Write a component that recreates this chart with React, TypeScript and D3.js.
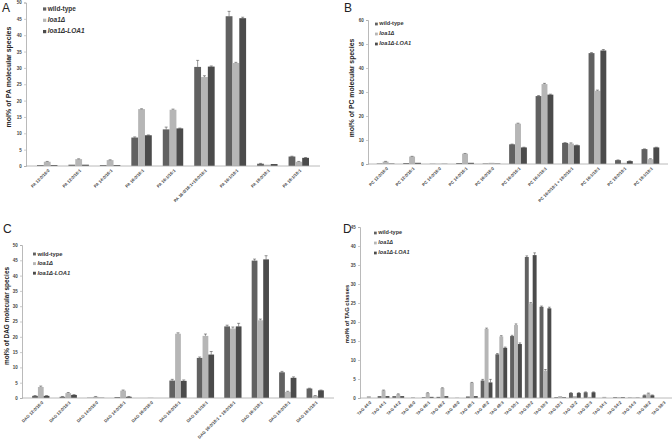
import { useEffect, useRef } from "react";
import * as d3 from "d3";

const seriesNames = ["wild-type", "loa1Δ", "loa1Δ-LOA1"];
const seriesColors = ["#616161", "#b6b6b6", "#4b4b4b"];

// A: PA
const paCategories = [
  "PA 12:0/16:0", "PA 12:0/16:1", "PA 14:0/16:1", "PA 16:0/16:1", "PA 16:1/16:1",
  "PA 16:0/18:1+18:0/16:1", "PA 16:1/18:1", "PA 18:0/18:1", "PA 18:1/18:1",
];
const paWildType = [0.3, 0.4, 0.3, 8.7, 11.2, 30.3, 45.8, 0.7, 2.9];
const paLoa1 = [1.3, 2.1, 1.8, 17.4, 17.2, 27.2, 31.5, 0.4, 1.3];
const paLoa1Comp = [0.3, 0.4, 0.3, 9.4, 11.5, 30.4, 45.2, 0.6, 2.5];
const paWildTypeErr = [0, 0, 0, 0.2, 0.7, 2.0, 1.5, 0.1, 0.1];
const paLoa1Err = [0.1, 0.1, 0.1, 0.1, 0.2, 0.4, 0.2, 0, 0.1];
const paLoa1CompErr = [0, 0, 0, 0.1, 0.1, 0.2, 0.3, 0, 0.1];
const paTicks = [0, 5, 10, 15, 20, 25, 30, 35, 40, 45, 50];

// B: PC
const pcCategories = [
  "PC 12:0/16:0", "PC 12:0/16:1", "PC 14:0/16:0", "PC 14:0/16:1", "PC 16:0/16:0",
  "PC 16:0/16:1", "PC 16:1/16:1", "PC 16:0/18:1 + 18:0/16:1", "PC 16:1/18:1",
  "PC 18:0/18:1", "PC 18:1/18:1",
];
const pcWildType = [0.2, 0.4, 0.1, 0.4, 0.2, 8.2, 28.3, 8.8, 46.2, 1.6, 6.2];
const pcLoa1 = [1.0, 3.1, 0.1, 4.3, 0.5, 16.8, 33.3, 8.5, 30.5, 0.5, 2.0];
const pcLoa1Comp = [0.2, 0.5, 0.1, 0.5, 0.2, 6.9, 28.9, 7.8, 47.3, 1.2, 6.9];
const pcWildTypeErr = [0, 0, 0, 0, 0, 0.1, 0.2, 0.1, 0.2, 0.1, 0.1];
const pcLoa1Err = [0.1, 0.1, 0, 0.1, 0, 0.2, 0.3, 0.3, 0.3, 0, 0.2];
const pcLoa1CompErr = [0, 0, 0, 0, 0, 0.1, 0.2, 0.1, 0.4, 0.1, 0.1];
const pcTicks = [0, 10, 20, 30, 40, 50, 60];

// C: DAG
const dagCategories = [
  "DAG 12:0/16:0", "DAG 12:0/16:1", "DAG 14:0/16:0", "DAG 14:0/16:1", "DAG 16:0/16:0",
  "DAG 16:0/16:1", "DAG 16:1/16:1", "DAG 16:0/18:1 + 18:0/16:1", "DAG 16:1/18:1",
  "DAG 18:0/18:1", "DAG 18:1/18:1",
];
const dagWildType = [0.7, 0.4, 0.1, 0.3, 0, 5.7, 13.1, 23.4, 44.9, 8.4, 3.1];
const dagLoa1 = [3.6, 1.6, 0.4, 2.4, 0.1, 21.0, 20.3, 22.7, 25.4, 2.0, 0.7];
const dagLoa1Comp = [0.7, 1.0, 0.1, 0.4, 0, 5.6, 14.2, 23.4, 45.3, 6.6, 2.5];
const dagWildTypeErr = [0.1, 0.1, 0, 0, 0, 0.4, 0.3, 0.4, 0.5, 0.3, 0.1];
const dagLoa1Err = [0.3, 0.2, 0.1, 0.2, 0, 0.3, 0.6, 0.5, 0.4, 0.2, 0.1];
const dagLoa1CompErr = [0.1, 0.1, 0, 0.1, 0, 0.3, 1.0, 1.0, 1.2, 0.3, 0.1];
const dagTicks = [0, 5, 10, 15, 20, 25, 30, 35, 40, 45, 50];

// D: TAG
const tagCategories = [
  "TAG 44:0", "TAG 44:1", "TAG 44:2", "TAG 46:0", "TAG 46:1", "TAG 46:2", "TAG 48:0",
  "TAG 48:1", "TAG 48:2", "TAG 48:3", "TAG 50:1", "TAG 50:2", "TAG 50:3", "TAG 52:1",
  "TAG 52:2", "TAG 52:3", "TAG 54:1", "TAG 54:2", "TAG 54:3", "TAG 56:2", "TAG 58:3",
];
const tagWildType = [0, 0.5, 0.5, 0, 0.2, 0.3, 0, 0.4, 4.6, 11.5, 16.3, 37.1, 24.0, 0.2, 1.3, 1.5, 0, 0.2, 0.1, 0.7, 0];
const tagLoa1 = [0.5, 2.0, 1.0, 0.2, 1.3, 2.6, 0.1, 4.0, 18.2, 16.2, 19.2, 24.9, 7.2, 0.5, 0.5, 0.3, 0.3, 0.2, 0.1, 1.2, 0];
const tagLoa1Comp = [0, 0.5, 0.5, 0, 0.3, 0.5, 0, 0.5, 4.1, 13.2, 14.2, 37.6, 23.6, 0.2, 1.3, 1.5, 0, 0.2, 0.1, 0.7, 0];
const tagWildTypeErr = [0, 0, 0, 0, 0, 0, 0, 0, 0.3, 0.2, 0.2, 0.3, 0.2, 0, 0.1, 0.1, 0, 0, 0, 0.1, 0];
const tagLoa1Err = [0, 0.1, 0.1, 0, 0.1, 0.1, 0, 0.1, 0.2, 0.2, 0.3, 0.2, 0.3, 0, 0, 0, 0, 0, 0, 0.1, 0];
const tagLoa1CompErr = [0, 0, 0, 0, 0, 0, 0, 0, 0.8, 0.2, 0.3, 0.6, 0.3, 0, 0.1, 0.1, 0, 0, 0, 0.1, 0];
const tagTicks = [0, 5, 10, 15, 20, 25, 30, 35, 40, 45];

interface PanelConfig {
  letter: string;
  yTitle: string;
  categories: string[];
  values: number[][];
  errors: number[][];
  ticks: number[];
  // layout
  left: number;
  right: number;
  top: number;
  bottom: number;
  padding: number;
  letterX: number;
  letterY: number;
  titleX: number;
  titleY: number;
  titleSize: number;
  legendX: number;
  legendY: number;
  legendStep: number;
  legendSize: number;
  labelSize: number;
}

const panels: PanelConfig[] = [
  {
    letter: "A", yTitle: "mol% of PA molecular species", categories: paCategories,
    values: [paWildType, paLoa1, paLoa1Comp], errors: [paWildTypeErr, paLoa1Err, paLoa1CompErr],
    ticks: paTicks, left: 26, right: 320, top: 2.5, bottom: 166, padding: 0.35,
    letterX: 2, letterY: 12, titleX: 9, titleY: 77, titleSize: 7,
    legendX: 43, legendY: 9, legendStep: 11.3, legendSize: 6.5, labelSize: 4.2,
  },
  {
    letter: "B", yTitle: "mol% of PC molecular species", categories: pcCategories,
    values: [pcWildType, pcLoa1, pcLoa1Comp], errors: [pcWildTypeErr, pcLoa1Err, pcLoa1CompErr],
    ticks: pcTicks, left: 368, right: 668, top: 20, bottom: 164, padding: 0.33,
    letterX: 344, letterY: 12, titleX: 352, titleY: 88, titleSize: 6.8,
    legendX: 375, legendY: 24, legendStep: 10, legendSize: 5.6, labelSize: 4.2,
  },
  {
    letter: "C", yTitle: "mol% of DAG molecular species", categories: dagCategories,
    values: [dagWildType, dagLoa1, dagLoa1Comp], errors: [dagWildTypeErr, dagLoa1Err, dagLoa1CompErr],
    ticks: dagTicks, left: 22, right: 334, top: 245, bottom: 398, padding: 0.37,
    letterX: 3, letterY: 233, titleX: 7, titleY: 316, titleSize: 6.4,
    legendX: 33, legendY: 254, legendStep: 9.6, legendSize: 5.8, labelSize: 4.2,
  },
  {
    letter: "D", yTitle: "mol% of TAG classes", categories: tagCategories,
    values: [tagWildType, tagLoa1, tagLoa1Comp], errors: [tagWildTypeErr, tagLoa1Err, tagLoa1CompErr],
    ticks: tagTicks, left: 360, right: 672, top: 227, bottom: 398, padding: 0.2,
    letterX: 343, letterY: 233, titleX: 347.5, titleY: 314, titleSize: 5.8,
    legendX: 374, legendY: 233, legendStep: 10, legendSize: 5.5, labelSize: 4.2,
  },
];

const FONT = "'Liberation Sans', Arial, sans-serif";

function drawPanel(svg: d3.Selection<SVGSVGElement, unknown, null, undefined>, p: PanelConfig) {
  const g = svg.append("g");
  const x0 = d3.scaleBand().domain(p.categories).range([p.left, p.right]).padding(p.padding);
  const x1 = d3.scaleBand<number>().domain([0, 1, 2]).range([0, x0.bandwidth()]).padding(0);
  const yMax = p.ticks[p.ticks.length - 1];
  const y = d3.scaleLinear().domain([0, yMax]).range([p.bottom, p.top]);

  // panel letter
  g.append("text")
    .attr("x", p.letterX)
    .attr("y", p.letterY)
    .attr("font-family", FONT)
    .attr("font-size", 12)
    .attr("fill", "#222")
    .text(p.letter);

  // y axis
  const yAxis = g
    .append("g")
    .attr("transform", `translate(${p.left},0)`)
    .call(d3.axisLeft(y).tickValues(p.ticks).tickSize(2).tickPadding(2.2));
  yAxis.select(".domain").attr("stroke", "#a8a8a8").attr("stroke-width", 0.8);
  yAxis.selectAll(".tick line").attr("stroke", "#a8a8a8").attr("stroke-width", 0.6);
  yAxis
    .selectAll("text")
    .attr("font-family", FONT)
    .attr("font-size", 4.5)
    .attr("font-weight", "bold")
    .attr("fill", "#444");

  // y title
  g.append("text")
    .attr("transform", `translate(${p.titleX},${p.titleY}) rotate(-90)`)
    .attr("text-anchor", "middle")
    .attr("dominant-baseline", "middle")
    .attr("font-family", FONT)
    .attr("font-size", p.titleSize)
    .attr("font-weight", "bold")
    .attr("fill", "#222")
    .text(p.yTitle);

  // bars
  p.values.forEach((vals, s) => {
    g.append("g")
      .selectAll("rect")
      .data(vals)
      .join("rect")
      .attr("x", (_, i) => (x0(p.categories[i]) ?? 0) + (x1(s) ?? 0))
      .attr("width", x1.bandwidth())
      .attr("y", (d) => y(d))
      .attr("height", (d) => p.bottom - y(d))
      .attr("fill", seriesColors[s]);
  });

  // error bars
  p.values.forEach((vals, s) => {
    const errs = p.errors[s];
    const eg = g.append("g").attr("stroke", "#333").attr("stroke-width", 0.5);
    vals.forEach((v, i) => {
      if (!errs[i] || v <= 0) return;
      const cx = (x0(p.categories[i]) ?? 0) + (x1(s) ?? 0) + x1.bandwidth() / 2;
      const y1 = y(v);
      const y2 = y(v + errs[i]);
      const cap = Math.min(1.5, x1.bandwidth() / 3);
      eg.append("line").attr("x1", cx).attr("x2", cx).attr("y1", y1).attr("y2", y2);
      eg.append("line").attr("x1", cx - cap).attr("x2", cx + cap).attr("y1", y2).attr("y2", y2);
    });
  });

  // x axis line
  g.append("line")
    .attr("x1", p.left)
    .attr("x2", p.right)
    .attr("y1", p.bottom)
    .attr("y2", p.bottom)
    .attr("stroke", "#a8a8a8")
    .attr("stroke-width", 0.8);

  // x labels (rotated)
  g.append("g")
    .selectAll("text")
    .data(p.categories)
    .join("text")
    .attr("transform", (d) => `translate(${(x0(d) ?? 0) + x0.bandwidth() / 2 + 2},${p.bottom + 4}) rotate(-45)`)
    .attr("text-anchor", "end")
    .attr("dominant-baseline", "middle")
    .attr("font-family", FONT)
    .attr("font-size", p.labelSize)
    .attr("font-weight", "bold")
    .attr("fill", "#444")
    .text((d) => d);

  // legend
  const legend = g.append("g");
  seriesNames.forEach((name, s) => {
    const ly = p.legendY + s * p.legendStep;
    const sq = p.legendSize * 0.5;
    legend
      .append("rect")
      .attr("x", p.legendX)
      .attr("y", ly - sq / 2)
      .attr("width", sq)
      .attr("height", sq)
      .attr("fill", seriesColors[s]);
    legend
      .append("text")
      .attr("x", p.legendX + sq + 1.5)
      .attr("y", ly)
      .attr("dominant-baseline", "middle")
      .attr("font-family", FONT)
      .attr("font-size", p.legendSize)
      .attr("font-weight", "bold")
      .attr("font-style", s === 0 ? "normal" : "italic")
      .attr("fill", "#333")
      .text(name);
  });
}

export default function App() {
  const svgRef = useRef<SVGSVGElement>(null);

  useEffect(() => {
    if (!svgRef.current) return;
    const svg = d3.select(svgRef.current);
    svg.selectAll("*").remove();
    panels.forEach((p) => drawPanel(svg, p));
  }, []);

  return (
    <svg
      ref={svgRef}
      width={672}
      height={442}
      style={{ position: "absolute", left: 0, top: 0, background: "#fff" }}
    />
  );
}
